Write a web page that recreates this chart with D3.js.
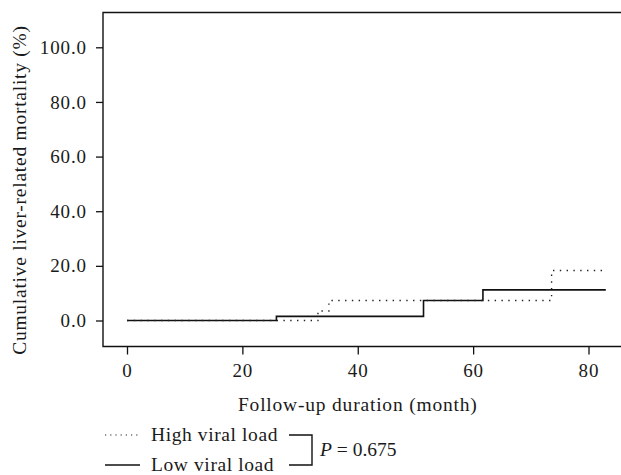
<!DOCTYPE html>
<html>
<head>
<meta charset="utf-8">
<script src="https://cdn.jsdelivr.net/npm/d3@7/dist/d3.min.js"></script>
<style>
  html, body { margin: 0; padding: 0; background: #fff; }
  svg { display: block; }
  text { font-family: "Liberation Serif", "Times New Roman", serif; fill: #1a1a1a; }
</style>
</head>
<body>
<svg id="chart" width="621" height="475"></svg>
<script>
// ---- data ----
const xTicks = [0, 20, 40, 60, 80];
const yTicks = [0, 20, 40, 60, 80, 100];
const highMonths = [0, 33.1, 35.0, 73.6, 83];
const highValues = [0, 3.5, 7.3, 18.3, 18.3];
const lowMonths = [0, 25.9, 51.4, 61.7, 83];
const lowValues = [0, 1.5, 7.3, 11.2, 11.2];
const seriesNames = ["High viral load", "Low viral load"];
const pLabel = "0.675";

const svg = d3.select("#chart");
const frame = { left: 103, top: 12.5, bottom: 346.5, right: 622 };

const x = d3.scaleLinear().domain([0, 80]).range([127, 588.5]);
const y = d3.scaleLinear().domain([0, 100]).range([320.5, 47.3]);

// frame (open to the right)
svg.append("path")
  .attr("d", `M${frame.right},${frame.top}H${frame.left}V${frame.bottom}H${frame.right}`)
  .attr("fill", "none").attr("stroke", "#111").attr("stroke-width", 1.4);

// y axis
const yAxis = d3.axisLeft(y).tickValues(yTicks).tickSize(7).tickPadding(9)
  .tickFormat(d3.format(".1f"));
const gy = svg.append("g").attr("transform", `translate(${frame.left},0)`).call(yAxis);
gy.select(".domain").remove();
gy.selectAll(".tick line").attr("stroke", "#111").attr("stroke-width", 1.3);
gy.selectAll(".tick text").attr("font-size", 19).attr("fill", "#1a1a1a")
  .style("font-family", '"Liberation Serif", serif').style("letter-spacing", "0.9px");

// x axis
const xAxis = d3.axisBottom(x).tickValues(xTicks).tickSize(8).tickPadding(9)
  .tickFormat(d3.format("d"));
const gx = svg.append("g").attr("transform", `translate(0,${frame.bottom})`).call(xAxis);
gx.select(".domain").remove();
gx.selectAll(".tick line").attr("stroke", "#111").attr("stroke-width", 1.3);
gx.selectAll(".tick text").attr("font-size", 19).attr("fill", "#1a1a1a")
  .style("font-family", '"Liberation Serif", serif').style("letter-spacing", "0.9px");

// axis titles
svg.append("text")
  .attr("transform", `translate(26,190) rotate(-90)`)
  .attr("text-anchor", "middle").attr("font-size", 19.5).style("letter-spacing", "0.75px")
  .text("Cumulative liver-related mortality (%)");
svg.append("text")
  .attr("x", x(40)).attr("y", 411)
  .attr("text-anchor", "middle").attr("font-size", 19.5).style("letter-spacing", "0.8px")
  .text("Follow-up duration (month)");

// step lines
const line = d3.line().curve(d3.curveStepAfter)
  .x(d => x(d[0])).y(d => y(d[1]));
const lowData = lowMonths.map((m, i) => [m, lowValues[i]]);
const highData = highMonths.map((m, i) => [m, highValues[i]]);

svg.append("path").datum(lowData).attr("d", line)
  .attr("fill", "none").attr("stroke", "#111").attr("stroke-width", 1.6);
svg.append("path").datum(highData).attr("d", line)
  .attr("fill", "none").attr("stroke", "#222").attr("stroke-width", 1.4)
  .attr("stroke-dasharray", "1.4,5.4");

// legend
const legY = [435, 465];
svg.append("line").attr("x1", 105).attr("x2", 140).attr("y1", legY[0]).attr("y2", legY[0])
  .attr("stroke", "#222").attr("stroke-width", 1.2).attr("stroke-dasharray", "1.2,4");
svg.append("line").attr("x1", 105).attr("x2", 140).attr("y1", legY[1]).attr("y2", legY[1])
  .attr("stroke", "#111").attr("stroke-width", 1.5);
seriesNames.forEach((n, i) => {
  svg.append("text").attr("x", 151).attr("y", legY[i] + 6).attr("font-size", 19.5)
    .style("letter-spacing", "0.6px").text(n);
});
svg.append("path")
  .attr("d", `M289,${legY[0]}H312V${legY[1]}H289`)
  .attr("fill", "none").attr("stroke", "#111").attr("stroke-width", 1.4);
const pt = svg.append("text").attr("x", 320).attr("y", (legY[0] + legY[1]) / 2 + 6).attr("font-size", 19.5);
pt.append("tspan").attr("font-style", "italic").text("P");
pt.append("tspan").text(" = " + pLabel);
</script>
</body>
</html>
